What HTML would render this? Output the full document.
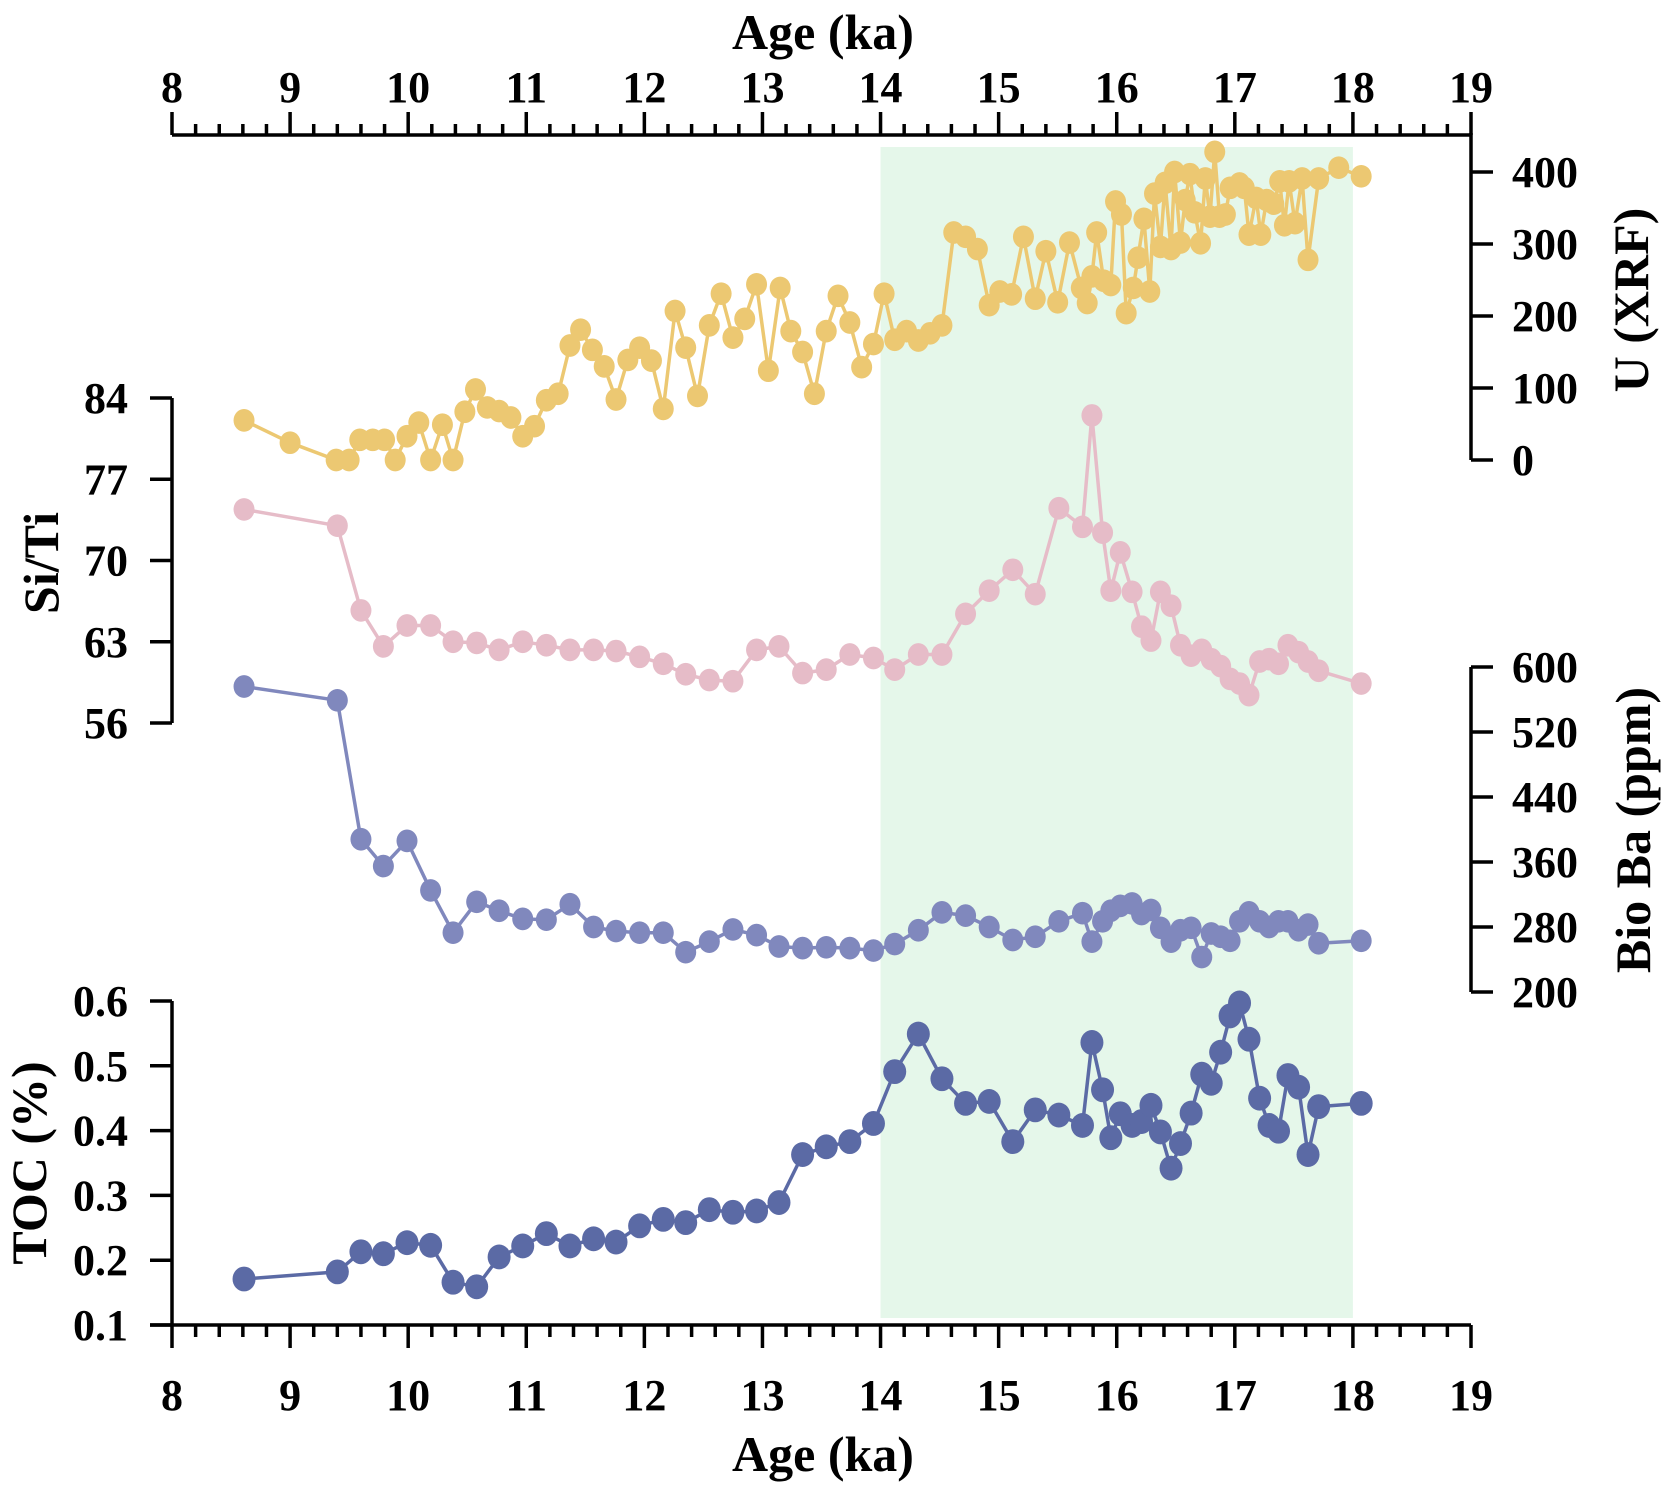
<!DOCTYPE html>
<html><head><meta charset="utf-8"><style>
html,body{margin:0;padding:0;background:#fff}
svg{display:block}
text{font-family:"Liberation Serif",serif;font-weight:bold;fill:#000}
</style></head><body>
<svg id="chart" width="1669" height="1489" viewBox="0 0 1669 1489" xmlns="http://www.w3.org/2000/svg"></svg>
<script>
const uAge=[8.61,9.0,9.39,9.5,9.59,9.7,9.8,9.89,9.99,10.09,10.19,10.29,10.38,10.48,10.57,10.67,10.77,10.87,10.97,11.07,11.17,11.27,11.37,11.46,11.56,11.66,11.76,11.86,11.96,12.06,12.16,12.26,12.35,12.45,12.55,12.65,12.75,12.85,12.95,13.05,13.15,13.24,13.34,13.44,13.54,13.64,13.74,13.84,13.94,14.03,14.12,14.22,14.32,14.42,14.52,14.62,14.72,14.82,14.92,15.01,15.11,15.21,15.31,15.4,15.5,15.6,15.7,15.75,15.79,15.83,15.89,15.95,15.99,16.04,16.08,16.14,16.18,16.23,16.28,16.32,16.37,16.41,16.46,16.49,16.54,16.58,16.62,16.66,16.71,16.75,16.79,16.83,16.87,16.92,16.96,17.04,17.08,17.12,17.18,17.22,17.27,17.33,17.38,17.42,17.46,17.51,17.57,17.62,17.71,17.88,18.07];
const uVal=[55,24,0,0,28,28,28,0,33,52,0,49,0,67,98,73,68,59,33,47,83,92,159,181,153,130,84,139,156,138,71,207,156,89,187,231,170,196,244,124,239,179,150,92,179,228,191,129,161,231,167,179,166,176,187,316,310,293,215,234,230,310,224,290,219,302,239,218,255,316,249,243,359,341,204,239,281,335,234,370,296,385,293,400,302,361,397,344,301,391,338,428,338,341,378,384,378,313,364,313,361,356,387,326,387,329,391,278,391,406,394];
const proxyAge=[8.61,9.4,9.6,9.79,9.99,10.19,10.38,10.58,10.77,10.97,11.17,11.37,11.57,11.76,11.96,12.16,12.35,12.55,12.75,12.95,13.14,13.34,13.54,13.74,13.94,14.12,14.32,14.52,14.72,14.92,15.12,15.31,15.51,15.71,15.79,15.88,15.95,16.03,16.13,16.21,16.29,16.37,16.46,16.54,16.63,16.72,16.8,16.88,16.96,17.04,17.12,17.21,17.29,17.37,17.45,17.54,17.62,17.71,18.07];
const siTi=[74.4,73.0,65.7,62.6,64.4,64.4,63.0,62.9,62.3,63.0,62.7,62.3,62.3,62.2,61.7,61.1,60.2,59.7,59.6,62.3,62.6,60.3,60.6,61.9,61.6,60.6,61.9,61.9,65.4,67.4,69.2,67.1,74.5,72.9,82.5,72.4,67.4,70.7,67.3,64.3,63.1,67.3,66.1,62.7,61.8,62.3,61.5,60.9,59.8,59.4,58.4,61.3,61.5,61.1,62.7,62.1,61.3,60.5,59.4];
const bioBa=[576,559,388,355,386,325,273,311,300,290,289,308,280,275,273,273,249,262,277,270,256,254,255,254,251,259,276,298,294,280,264,268,287,297,262,287,300,306,309,296,301,279,262,276,279,243,272,268,263,287,298,287,280,287,287,276,283,260,263];
const toc=[0.171,0.182,0.213,0.210,0.227,0.223,0.166,0.159,0.205,0.222,0.241,0.222,0.233,0.228,0.253,0.263,0.258,0.278,0.274,0.276,0.289,0.363,0.375,0.383,0.411,0.491,0.549,0.480,0.442,0.445,0.383,0.432,0.424,0.408,0.536,0.463,0.389,0.426,0.408,0.414,0.439,0.398,0.342,0.380,0.427,0.487,0.473,0.521,0.577,0.597,0.541,0.450,0.408,0.399,0.485,0.467,0.363,0.437,0.442];
const ageTicks=[8,9,10,11,12,13,14,15,16,17,18,19];
const uTicks=[0,100,200,300,400];
const siTicks=[56,63,70,77,84];
const baTicks=[200,280,360,440,520,600];
const tocTicks=[0.1,0.2,0.3,0.4,0.5,0.6];

const NS="http://www.w3.org/2000/svg";
const svg=document.getElementById('chart');
function mk(tag,attrs,parent){const e=document.createElementNS(NS,tag);for(const k in attrs)e.setAttribute(k,attrs[k]);(parent||svg).appendChild(e);return e;}
const X0=172,X1=1471;
const xA=a=>X0+(a-8)*(X1-X0)/11;
const yU=v=>460-v*(460-172)/400;
const yS=v=>723-(v-56)*(723-398)/28;
const yB=v=>992-(v-200)*(992-667)/400;
const yT=v=>1325-(v-0.1)*(1325-1001)/0.5;

const sh=mk('rect',{x:xA(14),y:147,width:xA(18)-xA(14),height:1318-147,fill:'#e5f7ea'});



function series(name,xs,ys,fy,color,r,w){
  const g=mk('g',{});
  
  
  const pts=xs.map((a,i)=>xA(a).toFixed(1)+','+fy(ys[i]).toFixed(1)).join(' ');
  const l=mk('polyline',{points:pts,fill:'none',stroke:color,'stroke-width':w,'stroke-linejoin':'round'},g);
  
  
  xs.forEach((a,i)=>{
    const c=mk('ellipse',{cx:xA(a),cy:fy(ys[i]),rx:r,ry:r*1.08,fill:color},g);
    
    
  });
}
series('u-xrf-series',uAge,uVal,yU,'#ecc872',10.5,3.5);
series('si-ti-series',proxyAge,siTi,yS,'#e6bcc8',10.5,3.5);
series('bio-ba-series',proxyAge,bioBa,yB,'#8088bd',10.5,3.5);
series('toc-series',proxyAge,toc,yT,'#5b6aa5',11.5,3.5);

function line(x1,y1,x2,y2,p){return mk('line',{x1,y1,x2,y2,stroke:'#000','stroke-width':3.5},p);}
function txt(s,x,y,size,anchor,p,rot){const t=mk('text',{x,y,'font-size':size,'text-anchor':anchor},p);if(rot)t.setAttribute('transform',`rotate(-90 ${x} ${y})`);t.textContent=s;return t;}

const gt=mk('g',{});
line(X0,135,X1,135,gt);
for(let a=8;a<=19.001;a+=0.2){const maj=Math.abs(a-Math.round(a))<0.01;line(xA(a),135,xA(a),maj?112:124,gt);}
ageTicks.forEach(a=>txt(String(a),xA(a),102,44,'middle',gt));
const tt=txt('Age (ka)',823,49,50,'middle',gt);
const gb=mk('g',{});
line(X0-22,1325,X1,1325,gb);
for(let a=8;a<=19.001;a+=0.2){const maj=Math.abs(a-Math.round(a))<0.01;line(xA(a),1325,xA(a),maj?1348:1337,gb);}
ageTicks.forEach(a=>txt(String(a),xA(a),1410,44,'middle',gb));
const bt=txt('Age (ka)',823,1471,50,'middle',gb);
const gu=mk('g',{});
line(X1,133,X1,460,gu);
uTicks.forEach(v=>{line(X1,yU(v),1493,yU(v),gu);txt(String(v),1512,yU(v)+15,44,'start',gu);});
const ut=txt('U (XRF)',1648,300,50,'middle',gu,true);
const gs=mk('g',{});
line(X0,398,X0,723,gs);
siTicks.forEach(v=>{line(150,yS(v),X0,yS(v),gs);txt(String(v),128,yS(v)+15,44,'end',gs);});
const st=txt('Si/Ti',58,563,50,'middle',gs,true);
const gba=mk('g',{});
line(X1,667,X1,992,gba);
baTicks.forEach(v=>{line(X1,yB(v),1493,yB(v),gba);txt(String(v),1512,yB(v)+15,44,'start',gba);});
const bat=txt('Bio Ba (ppm)',1650,830,50,'middle',gba,true);
const gto=mk('g',{});
line(X0,1001,X0,1325,gto);
tocTicks.forEach(v=>{line(150,yT(v),X0,yT(v),gto);txt(v.toFixed(1),128,yT(v)+15,44,'end',gto);});
const tct=txt('TOC (%)',46,1163,50,'middle',gto,true);
</script>
</body></html>
